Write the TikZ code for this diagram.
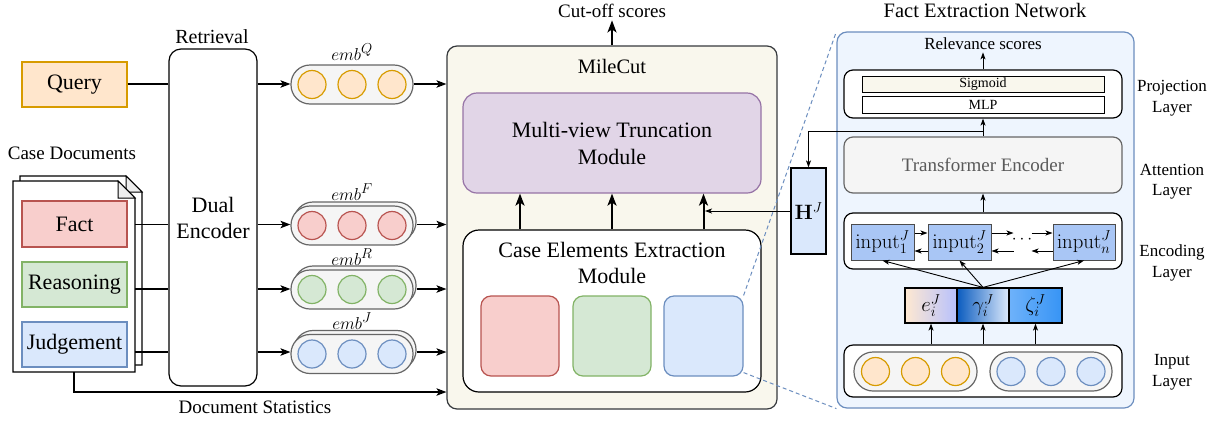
\documentclass[tikz,border=0pt]{standalone}
\usepackage[no-math]{fontspec}
\setmainfont{Liberation Serif}
\usetikzlibrary{arrows.meta,calc}

\definecolor{orangeF}{HTML}{FFE6CC}
\definecolor{orangeD}{HTML}{D79B00}
\definecolor{redF}{HTML}{F8CECC}
\definecolor{redD}{HTML}{B85450}
\definecolor{greenF}{HTML}{D5E8D4}
\definecolor{greenD}{HTML}{82B366}
\definecolor{blueF}{HTML}{DAE8FC}
\definecolor{blueD}{HTML}{6C8EBF}
\definecolor{purpleF}{HTML}{E1D5E7}
\definecolor{purpleD}{HTML}{9673A6}
\definecolor{beige}{HTML}{F9F7ED}
\definecolor{grayF}{HTML}{F5F5F5}
\definecolor{grayD}{HTML}{666666}
\definecolor{foldF}{HTML}{EEEEEE}
\definecolor{frameD}{HTML}{36393D}
\definecolor{fenF}{HTML}{EEF5FE}
\definecolor{inputF}{HTML}{A9C6F5}

\begin{document}
\begin{tikzpicture}[x=1pt,y=-1pt,
  font=\fontsize{22}{26}\selectfont,
  box/.style={draw, line width=1.2pt, inner sep=0pt, align=center},
  ln/.style={line width=1.2pt},
  arr/.style={line width=1.2pt, -{Stealth[length=10pt,width=7.5pt,inset=2.5pt]}},
  fatarr/.style={line width=2pt, -{Stealth[length=12pt,width=9pt,inset=3pt]}},
  sarr/.style={line width=0.9pt, -{Stealth[length=7pt,width=5pt,inset=1.8pt]}},
  pill/.style={draw=grayD, fill=grayF, line width=1.2pt, rounded corners=19pt,
    minimum width=122pt, minimum height=39pt, inner sep=0pt},
  dot/.style={circle, line width=1.2pt, minimum size=28pt, inner sep=0pt},
  lbl/.style={inner sep=0pt, align=center},
  layer/.style={lbl, font=\fontsize{17}{20.5}\selectfont},
]
\useasboundingbox[fill=white] (0,0) rectangle (1222,421);

% ---------- inputs ----------
\node[box, draw=orangeD, fill=orangeF, minimum width=105pt, minimum height=45pt] (query) at (74.5,84.5) {Query};
\node[lbl, font=\fontsize{19}{22}\selectfont] (casedocs) at (72,153) {Case Documents};

% stacked document pages with folded corner
\draw[ln, fill=white] (20,176) -- (126,176) -- (142,192) -- (142,365) -- (20,365) -- cycle;
\draw[line width=1pt, fill=foldF] (126,176) -- (126,192) -- (142,192) -- cycle;
\draw[ln, fill=white] (13,181) -- (118,181) -- (135,198) -- (135,372) -- (13,372) -- cycle;
\draw[line width=1pt, fill=foldF] (118,181) -- (118,198) -- (135,198) -- cycle;
\node[inner sep=0pt, minimum width=122pt, minimum height=191pt] (doc) at (74,276.5) {};

\node[box, draw=redD, fill=redF, minimum width=105pt, minimum height=46pt] (fact) at (74.5,224) {Fact};
\node[box, draw=greenD, fill=greenF, minimum width=105pt, minimum height=45pt] (reason) at (74.5,284.5) {Reasoning};
\node[box, draw=blueD, fill=blueF, minimum width=105pt, minimum height=45pt] (judge) at (74.5,344.5) {Judgement};

% ---------- encoder ----------
\node[lbl, font=\fontsize{20}{24}\selectfont] (retr) at (212,37) {Retrieval};
\node[box, fill=white, rounded corners=12pt, minimum width=88pt, minimum height=337pt,
  font=\fontsize{22}{26}\selectfont] (enc) at (213,217.5) {Dual\\Encoder};

\coordinate (rowQ) at (0,84);
\coordinate (rowF) at (0,224.5);
\coordinate (rowR) at (0,289);
\coordinate (rowJ) at (0,352);

\draw[ln] (query.east |- rowQ) -- (enc.west |- rowQ);
\draw[ln] (doc.east |- rowF) -- (enc.west |- rowF);
\draw[ln] (doc.east |- rowR) -- (enc.west |- rowR);
\draw[ln] (doc.east |- rowJ) -- (enc.west |- rowJ);

% ---------- embeddings ----------
\node[pill] (embQ) at (352,84.5) {};
\node[pill] (embFb) at (355,221.5) {};
\node[pill] (embF) at (352,225.5) {};
\node[pill] (embRb) at (355,285.5) {};
\node[pill] (embR) at (352,289.5) {};
\node[pill] (embJb) at (355,350) {};
\node[pill] (embJ) at (352,354) {};
\foreach \dx [count=\i] in {-40,0,40} {
  \node[dot, draw=orangeD, fill=orangeF] (q\i) at ($(embQ)+(\dx,0)$) {};
  \node[dot, draw=redD, fill=redF] (f\i) at ($(embF)+(\dx,0)$) {};
  \node[dot, draw=greenD, fill=greenF] (r\i) at ($(embR)+(\dx,0)$) {};
  \node[dot, draw=blueD, fill=blueF] (j\i) at ($(embJ)+(\dx,0)$) {};
}
\node[lbl, font=\fontsize{19}{22}\selectfont] (lQ) at (352,52) {$emb^{Q}$};
\node[lbl, font=\fontsize{19}{22}\selectfont] (lF) at (352,192) {$emb^{F}$};
\node[lbl, font=\fontsize{19}{22}\selectfont] (lR) at (352,257) {$emb^{R}$};
\node[lbl, font=\fontsize{19}{22}\selectfont] (lJ) at (352,321) {$emb^{J}$};

\draw[arr] (enc.east |- rowQ) -- (embQ.west |- rowQ);
\draw[arr] (enc.east |- rowF) -- (embF.west |- rowF);
\draw[arr] (enc.east |- rowR) -- (embR.west |- rowR);
\draw[arr] (enc.east |- rowJ) -- (embJ.west |- rowJ);

% ---------- MileCut ----------
\node[box, draw=frameD, fill=beige, rounded corners=10pt, minimum width=330pt, minimum height=363pt] (mile) at (612,227.5) {};
\node[lbl, font=\fontsize{20.5}{24}\selectfont] (milet) at (612,66) {MileCut};
\node[box, draw=purpleD, fill=purpleF, rounded corners=14pt, minimum width=298pt, minimum height=100pt,
  font=\fontsize{22}{27}\selectfont] (mvt) at (612,143) {Multi-view Truncation\\Module};
\node[box, fill=white, rounded corners=16pt, minimum width=298pt, minimum height=162pt] (cee) at (612,311) {};
\node[lbl, font=\fontsize{22}{26}\selectfont] (ceet) at (612,263) {Case Elements Extraction\\Module};
\node[box, draw=redD, fill=redF, rounded corners=10pt, minimum width=78pt, minimum height=80pt] (redsq) at (520,336) {};
\node[box, draw=greenD, fill=greenF, rounded corners=10pt, minimum width=78pt, minimum height=80pt] (greensq) at (612,336) {};
\node[box, draw=blueD, fill=blueF, rounded corners=10pt, minimum width=79pt, minimum height=80pt] (bluesq) at (703.5,336) {};

\draw[fatarr] (redsq.north |- cee.north) -- (redsq.north |- mvt.south);
\draw[fatarr] (greensq.north |- cee.north) -- (greensq.north |- mvt.south);
\draw[fatarr] (bluesq.north |- cee.north) -- (bluesq.north |- mvt.south);

\node[lbl, font=\fontsize{19}{22}\selectfont] (cut) at (612,11) {Cut-off scores};
\draw[fatarr] (mile.north) -- ($(mile.north)+(0,-25)$);

\draw[arr] (embQ.east |- rowQ) -- (mile.west |- rowQ);
\draw[arr] (embFb.east |- rowF) -- (mile.west |- rowF);
\draw[arr] (embRb.east |- rowR) -- (mile.west |- rowR);
\draw[arr] (embJb.east |- rowJ) -- (mile.west |- rowJ);

\coordinate (ds) at (74,392);
\draw[arr] (doc.south) -- (ds) -- (mile.west |- ds);
\node[lbl, font=\fontsize{19}{22}\selectfont] (dst) at (255,407) {Document Statistics};

% ---------- hidden states ----------
\node[box, fill=blueF, minimum width=35pt, minimum height=86pt, font=\fontsize{21}{24}\selectfont] (hj) at (808.5,211) {$\mathbf{H}^{J}$};
\draw[sarr] (hj.west) -- ($(hj.west -| bluesq.north)+(1.5,0)$);

% ---------- Fact Extraction Network ----------
\node[lbl, font=\fontsize{20.5}{24}\selectfont] (fent) at (985,10) {Fact Extraction Network};
\node[box, draw=blueD, fill=fenF, rounded corners=10pt, minimum width=297pt, minimum height=376pt] (fen) at (985.5,220) {};

\node[lbl, font=\fontsize{17}{20}\selectfont] (rel) at (983,44) {Relevance scores};
\node[box, fill=white, rounded corners=9pt, minimum width=278pt, minimum height=48pt] (proj) at (983,94) {};
\node[draw, line width=1pt, fill=beige, inner sep=0pt, minimum width=242pt, minimum height=16pt,
  font=\fontsize{14}{16}\selectfont] (sig) at (983,84) {Sigmoid};
\node[draw, line width=1pt, fill=white, inner sep=0pt, minimum width=242pt, minimum height=17pt,
  font=\fontsize{14}{16}\selectfont] (mlp) at (983,104.5) {MLP};
\draw[sarr] (proj.north) -- ($(proj.north)+(0,-17)$);

\node[box, draw=grayD, fill=grayF, rounded corners=9pt, minimum width=278pt, minimum height=56pt,
  text=black!65, font=\fontsize{19}{22}\selectfont] (tfe) at (983,165) {Transformer Encoder};
\draw[sarr] (tfe.north) -- (proj.south);
\coordinate (tap) at ($(tfe.north)+(0,-5)$);
\draw[sarr] (tap) -| (hj.north);

\node[box, fill=white, rounded corners=9pt, minimum width=278pt, minimum height=56pt] (encbox) at (983,241) {};
\draw[sarr] (encbox.north) -- (tfe.south);

\begin{scope}[every node/.style={draw=black!70, line width=1pt, fill=inputF, inner sep=0pt,
    minimum height=36pt, font=\fontsize{20}{22}\selectfont}]
  \node[minimum width=63pt] (in1) at (882.5,242) {$\mathrm{input}_{1}^{J}$};
  \node[minimum width=63pt] (in2) at (959.5,242) {$\mathrm{input}_{2}^{J}$};
  \node[minimum width=62pt] (inn) at (1084,242) {$\mathrm{input}_{n}^{J}$};
\end{scope}
\node[lbl, font=\fontsize{19}{22}\selectfont] (dots) at (1022,240) {$\cdots$};

\draw[sarr] ($(in1.east)+(0,-9)$) -- ($(in2.west)+(0,-9)$);
\draw[sarr] ($(in2.west)+(0,9)$) -- ($(in1.east)+(0,9)$);
\draw[sarr] ($(in2.east)+(0,-9)$) -- ($(in2.east)+(22,-9)$);
\draw[sarr] ($(inn.west)+(-21,-9)$) -- ($(inn.west)+(0,-9)$);
\draw[sarr] ($(in2.east)+(22,9)$) -- ($(in2.east)+(0,9)$);
\draw[sarr] ($(inn.west)+(0,9)$) -- ($(inn.west)+(-21,9)$);

% feature vectors
\node[draw, line width=1.2pt, inner sep=0pt, minimum width=52pt, minimum height=35pt,
  left color=orangeF!90!white, right color=blueF!80!blue!90, font=\fontsize{20}{22}\selectfont] (eJ) at (931,305.5) {$e_{i}^{J}$};
\node[draw, line width=1.2pt, inner sep=0pt, minimum width=52pt, minimum height=35pt,
  left color={rgb,255:red,11;green,92;blue,191}, right color=blueF!90!white, font=\fontsize{20}{22}\selectfont] (gam) at (983,305.5) {$\gamma_{i}^{J}$};
\node[draw, line width=1.2pt, inner sep=0pt, minimum width=53pt, minimum height=35pt,
  left color={rgb,255:red,110;green,178;blue,250}, middle color={rgb,255:red,182;green,214;blue,255},
  right color={rgb,255:red,55;green,148;blue,245}, font=\fontsize{20}{22}\selectfont] (zeta) at (1035.5,305.5) {$\zeta_{i}^{J}$};

\draw[sarr] (gam.north) -- (in1.south);
\draw[sarr] (gam.north) -- (in2.south);
\draw[sarr] (gam.north) -- (inn.south);

% input layer
\node[box, fill=white, rounded corners=9pt, minimum width=278pt, minimum height=52pt] (inbox) at (983,371) {};
\node[pill, minimum width=123pt] (pq) at (915.5,371.5) {};
\node[pill] (pj) at (1051,371.5) {};
\foreach \dx [count=\i] in {-40,0,40} {
  \node[dot, draw=orangeD, fill=orangeF] (pq\i) at ($(pq)+(\dx,0)$) {};
  \node[dot, draw=blueD, fill=blueF] (pj\i) at ($(pj)+(\dx,0)$) {};
}
\draw[sarr] (inbox.north -| eJ) -- (eJ.south);
\draw[sarr] (inbox.north -| gam) -- (gam.south);
\draw[sarr] (inbox.north -| zeta) -- (zeta.south);

% layer names
\node[layer] (lproj) at (1172,98) {Projection\\Layer};
\node[layer] (latt) at (1172,181.5) {Attention\\Layer};
\node[layer] (lenc) at (1172,263) {Encoding\\Layer};
\node[layer] (linp) at (1172,372.5) {Input\\Layer};

% zoom guides from the judgement element to the network
\draw[blueD, line width=1pt, dash pattern=on 4pt off 3pt] (bluesq.north east) -- (fen.north west);
\draw[blueD, line width=1pt, dash pattern=on 4pt off 3pt] ($(bluesq.south east)+(0,-4)$) -- (fen.south west);
\end{tikzpicture}
\end{document}
